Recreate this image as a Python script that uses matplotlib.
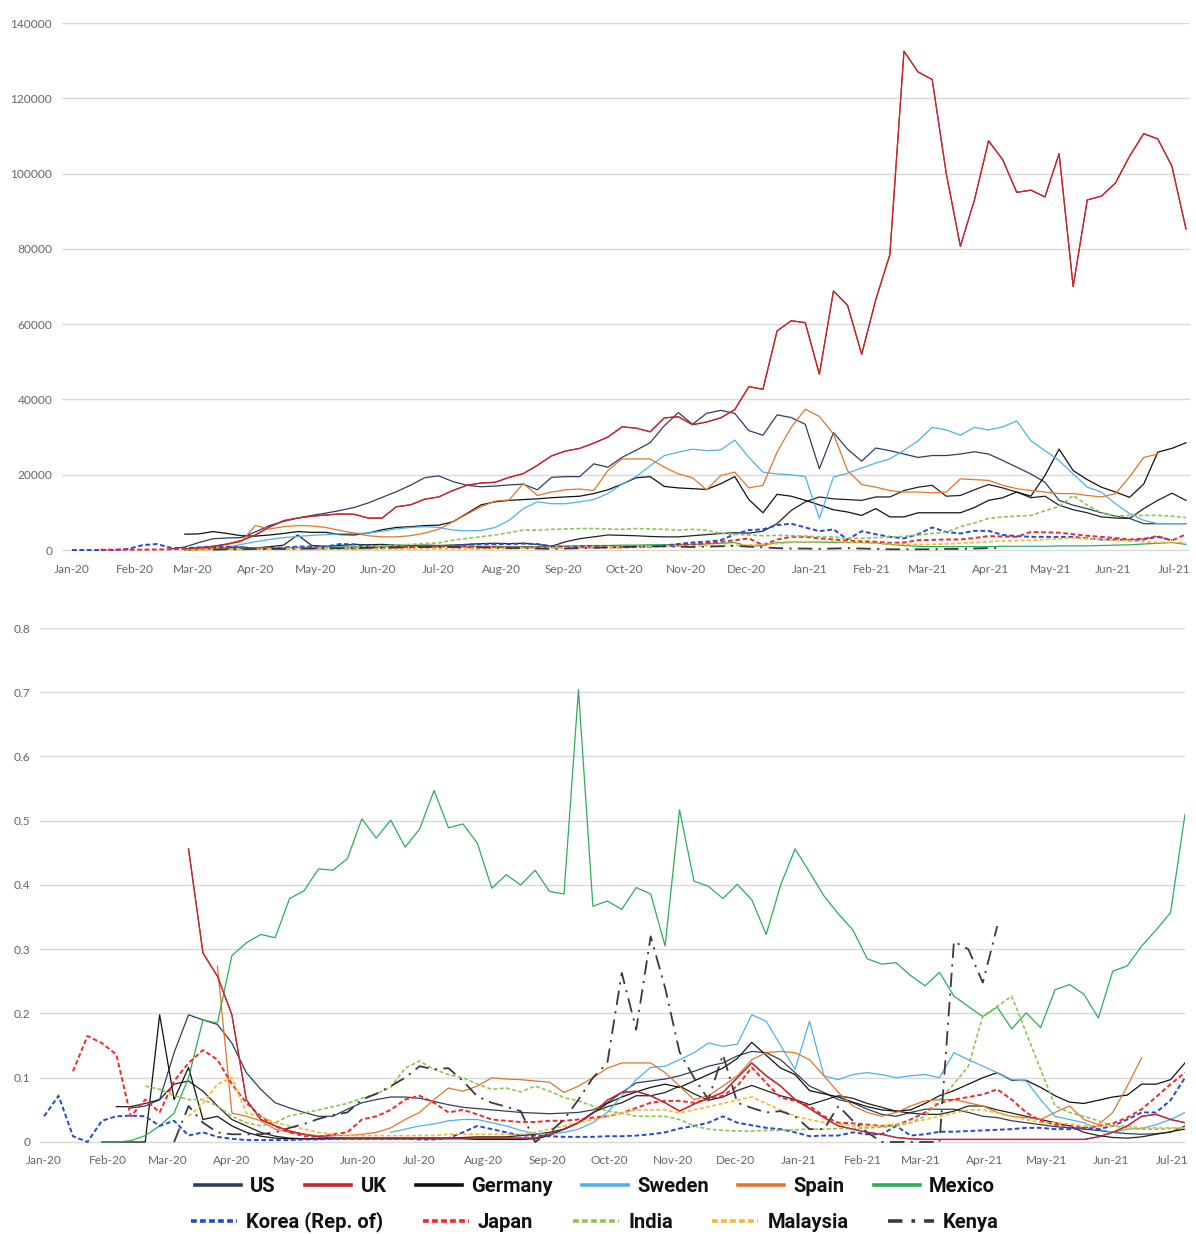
import numpy as np
import pandas as pd
import matplotlib
matplotlib.use("Agg")
import matplotlib.pyplot as plt
import matplotlib.dates as mdates
from matplotlib.lines import Line2D
from matplotlib.ticker import FuncFormatter

# ---------------- data (weekly, first week = 2020-01-01) ----------------
N_WEEKS = 80
week_dates = pd.date_range("2020-01-01", periods=N_WEEKS, freq="7D")

countries = ["US", "UK", "Germany", "Sweden", "Spain", "Mexico",
             "Korea (Rep. of)", "Japan", "India", "Malaysia", "Kenya"]

# ---- top panel (start week index, weekly values) ----
us_top_start = 7
us_top = [300, 800, 2000, 3000, 3200, 3300, 4800, 6500, 7600, 8500,
          9200, 9800, 10500, 11300, 12500, 14000, 15500, 17200, 19200, 19700,
          18200, 17200, 16800, 17000, 17300, 17500, 16000, 19300, 19500, 19500,
          22900, 22000, 24600, 26500, 28500, 33000, 36500, 33400, 36300, 37100,
          36300, 31700, 30500, 35900, 35200, 33400, 21600, 31200, 26800, 23600,
          27100, 26400, 25500, 24600, 25100, 25100, 25500, 26100, 25500, 23800,
          22000, 20200, 18000, 13200, 11900, 11000, 9900, 9000, 8400, 7000,
          7000, 7000, 7000]
uk_top_start = 8
uk_top = [300, 600, 1000, 1600, 2500, 4000, 6100, 7800, 8500, 9000,
          9300, 9600, 9500, 8500, 8500, 11500, 12000, 13500, 14100, 15800,
          17200, 17800, 18000, 19300, 20300, 22500, 25000, 26300, 27000, 28400,
          30000, 32700, 32400, 31400, 35100, 35400, 33300, 34000, 35100, 37300,
          43400, 42700, 58200, 60900, 60400, 46700, 68800, 65000, 52000, 66500,
          78500, 132500, 127000, 125000, 100000, 80700, 93000, 108700, 103700, 95000,
          95600, 93800, 105300, 70000, 93000, 94000, 97500, 104600, 110600, 109200,
          102000, 85300]
germany_top_start = 8
germany_top = [4200, 4300, 4900, 4400, 3800, 3700, 4000, 4400, 4900, 4700,
               4700, 4100, 4000, 4500, 5400, 6000, 6200, 6500, 6600, 7500,
               9700, 12000, 12800, 13200, 13400, 13600, 13900, 14100, 14300, 15000,
               16000, 17500, 19200, 19500, 16900, 16500, 16300, 16100, 17600, 19500,
               13400, 9900, 14800, 14300, 13200, 12000, 10700, 10100, 9200, 11000,
               8800, 8800, 9900, 9900, 9900, 9900, 11300, 13200, 13900, 15400,
               14300, 19800, 26800, 21100, 18700, 16700, 15400, 14000, 17500, 26000,
               27000, 28500]
other_dark_top_start = 8
other_dark_top = [0, 200, 400, 600, 800, 500, 900, 1300, 4000, 1200,
                  1000, 1200, 1500, 1400, 1500, 1300, 1200, 1300, 1200, 1300,
                  1500, 1700, 1800, 1700, 1800, 1500, 1000, 2200, 3000, 3500,
                  4000, 3900, 3800, 3600, 3500, 3500, 3800, 4100, 4400, 4600,
                  4500, 5000, 7000, 10500, 12800, 14100, 13600, 13400, 13200, 14100,
                  14100, 15800, 16700, 17200, 14300, 14500, 16000, 17400, 16500, 15400,
                  13900, 14300, 11900, 10700, 9900, 8800, 8500, 8400, 11000, 13200,
                  15100, 13200]
sweden_top_start = 10
sweden_top = [300, 800, 1500, 2200, 2800, 3300, 3600, 3900, 4100, 4300,
              4400, 4500, 5000, 5600, 6000, 6200, 6000, 5300, 5100, 5200,
              6000, 7900, 11000, 12800, 12300, 12300, 12800, 13400, 15000, 17500,
              19500, 22400, 25100, 26000, 26800, 26400, 26600, 29200, 24600, 20700,
              20200, 20000, 19500, 8400, 19400, 20400, 21800, 23100, 24200, 26500,
              29000, 32600, 31900, 30500, 32600, 31900, 32700, 34300, 29000, 26400,
              23800, 20200, 16700, 15400, 12300, 9700, 7900, 7000, 7000, 7000]
spain_top_start = 9
spain_top = [300, 800, 1500, 2200, 6500, 5600, 6200, 6500, 6400, 6000,
             5200, 4500, 3800, 3500, 3500, 3800, 4500, 5500, 7500, 9500,
             11500, 13000, 13300, 17700, 14500, 15400, 16000, 16200, 15800, 21100,
             24200, 24200, 24200, 22000, 20200, 19200, 16000, 19800, 20700, 16500,
             17200, 26000, 32600, 37400, 35500, 30800, 21100, 17400, 16700, 15800,
             15400, 15400, 15200, 15400, 18900, 18700, 18500, 17200, 16300, 15800,
             15400, 15000, 15000, 14500, 14100, 15000, 19400, 24600, 25500]
mexico_top_start = 8
mexico_top = [0, 100, 200, 300, 400, 500, 600, 600, 700, 700,
              800, 800, 900, 900, 900, 1000, 1000, 1000, 1000, 1000,
              1000, 1000, 1000, 900, 900, 900, 1000, 1000, 1100, 1200,
              1200, 1300, 1300, 1400, 1400, 1500, 1500, 1600, 1800, 2000,
              1000, 1200, 2000, 2100, 2100, 2100, 2000, 2000, 2000, 1900,
              1500, 1200, 1000, 900, 900, 900, 900, 900, 1000, 1000,
              1000, 1000, 1100, 1100, 1100, 1200, 1300, 1400, 1600, 1800,
              2000, 1500]
korea_top_start = 0
korea_top = [0, 0, 0, 0, 300, 1300, 1600, 600, 500, 700,
             800, 900, 700, 300, 500, 700, 900, 900, 900, 1600,
             1500, 1000, 1000, 1000, 900, 900, 900, 1200, 1400, 1600,
             1600, 1600, 1700, 1600, 1000, 900, 1000, 1000, 1000, 900,
             900, 1000, 1200, 1600, 2000, 2200, 2600, 4200, 5300, 5500,
             6600, 7000, 6000, 5000, 5500, 2800, 5000, 4200, 3500, 3100,
             4200, 6000, 4800, 4400, 5100, 5100, 4000, 3700, 3500, 3500,
             3500, 3500, 3100, 2800, 2800, 2600, 2800, 3500, 2600]
japan_top_start = 2
japan_top = [100, 100, 100, 100, 150, 200, 300, 300, 400, 400,
             400, 400, 500, 500, 500, 400, 400, 400, 400, 500,
             600, 700, 800, 900, 1000, 1000, 900, 800, 800, 700,
             700, 700, 700, 700, 700, 700, 700, 700, 800, 900,
             1000, 1200, 1500, 1800, 2200, 2600, 3100, 1300, 2800, 3500,
             3500, 3100, 2800, 2500, 2300, 2200, 1900, 2000, 2600, 2700,
             2800, 2800, 3200, 3700, 3600, 3500, 4800, 4700, 4600, 4200,
             3800, 3500, 3200, 2800, 3000, 3700, 2500, 4200]
india_top_start = 8
india_top = [100, 100, 200, 200, 300, 300, 400, 400, 500, 500,
             600, 600, 700, 900, 1100, 1300, 1500, 1700, 1900, 2600,
             3100, 3500, 4000, 4600, 5300, 5300, 5500, 5600, 5700, 5700,
             5600, 5500, 5700, 5600, 5500, 5300, 5500, 5300, 4400, 4200,
             4000, 3800, 3900, 3800, 3700, 3500, 3500, 3100, 3100, 3300,
             3500, 3600, 4000, 4400, 4800, 6200, 7200, 8400, 8800, 9000,
             9200, 10400, 11600, 14500, 11900, 9900, 9000, 9200, 9200, 9200,
             9000, 8600]
malaysia_top_start = 8
malaysia_top = [100, 100, 200, 200, 300, 300, 300, 300, 300, 300,
                300, 300, 300, 300, 300, 300, 300, 300, 300, 300,
                300, 300, 400, 400, 500, 500, 500, 600, 600, 700,
                800, 900, 900, 1000, 1000, 1000, 1100, 1200, 1200, 1300,
                1400, 1500, 1700, 2000, 2200, 2200, 2300, 2100, 2000, 1800,
                1600, 1500, 1500, 1500, 1600, 1800, 2000, 2200, 2400, 2500,
                2600, 2800, 3000, 3200, 3000, 2800, 2600, 2400, 2200, 2000,
                2000, 2000]
kenya_top_start = 10
kenya_top = [100, 200, 200, 300, 300, 300, 400, 400, 500, 500,
             500, 600, 600, 700, 700, 800, 800, 800, 700, 700,
             600, 500, 500, 400, 300, 400, 500, 600, 700, 800,
             900, 1000, 1000, 900, 800, 900, 1000, 1100, 900, 700,
             500, 400, 400, 300, 400, 500, 400, 300, 200, 200,
             200, 200, 300, 300, 400, 500, 500]

# ---- bottom panel ----
us_bot_start = 6
us_bot = [0.053, 0.056, 0.066, 0.139, 0.198, 0.19, 0.183, 0.154, 0.108, 0.082,
          0.061, 0.053, 0.046, 0.04, 0.04, 0.051, 0.061, 0.066, 0.07, 0.07,
          0.068, 0.063, 0.058, 0.054, 0.052, 0.05, 0.048, 0.046, 0.045, 0.044,
          0.045, 0.046, 0.05, 0.061, 0.077, 0.092, 0.095, 0.098, 0.103, 0.11,
          0.118, 0.123, 0.134, 0.141, 0.139, 0.128, 0.108, 0.087, 0.077, 0.066,
          0.061, 0.051, 0.043, 0.04, 0.046, 0.051, 0.051, 0.051, 0.046, 0.04,
          0.038, 0.033, 0.03, 0.027, 0.024, 0.022, 0.02, 0.018, 0.015, 0.013,
          0.012, 0.013, 0.015, 0.025]
uk_bot_start = 10
uk_bot = [0.456, 0.294, 0.258, 0.198, 0.066, 0.035, 0.025, 0.017, 0.012, 0.008,
          0.007, 0.006, 0.006, 0.006, 0.006, 0.006, 0.006, 0.006, 0.006, 0.006,
          0.006, 0.006, 0.006, 0.006, 0.006, 0.012, 0.02, 0.03, 0.045, 0.065,
          0.077, 0.079, 0.072, 0.061, 0.048, 0.059, 0.068, 0.077, 0.1, 0.123,
          0.103, 0.087, 0.066, 0.052, 0.038, 0.025, 0.02, 0.015, 0.012, 0.007,
          0.005, 0.004, 0.004, 0.004, 0.004, 0.004, 0.004, 0.004, 0.004, 0.004,
          0.004, 0.004, 0.004, 0.008, 0.015, 0.025, 0.04, 0.043, 0.035, 0.03]
germany_bot_start = 4
germany_bot = [0, 0, 0, 0, 0.198, 0.066, 0.116, 0.035, 0.04, 0.025,
               0.015, 0.009, 0.006, 0.005, 0.005, 0.005, 0.005, 0.005, 0.005, 0.005,
               0.005, 0.005, 0.005, 0.005, 0.005, 0.005, 0.004, 0.004, 0.004, 0.004,
               0.005, 0.01, 0.02, 0.03, 0.045, 0.06, 0.07, 0.078, 0.085, 0.09,
               0.085, 0.095, 0.105, 0.115, 0.13, 0.155, 0.135, 0.115, 0.105, 0.08,
               0.075, 0.07, 0.062, 0.055, 0.05, 0.048, 0.05, 0.06, 0.072, 0.08,
               0.09, 0.1, 0.108, 0.096, 0.096, 0.085, 0.072, 0.062, 0.06, 0.065,
               0.07, 0.073, 0.09, 0.09, 0.097, 0.123]
other_dark_bot_start = 5
other_dark_bot = [0.055, 0.055, 0.06, 0.066, 0.09, 0.095, 0.079, 0.056, 0.035, 0.025,
                  0.015, 0.009, 0.006, 0.005, 0.005, 0.006, 0.006, 0.006, 0.006, 0.006,
                  0.006, 0.006, 0.006, 0.006, 0.007, 0.008, 0.008, 0.008, 0.01, 0.012,
                  0.015, 0.02, 0.03, 0.046, 0.055, 0.061, 0.072, 0.072, 0.077, 0.087,
                  0.075, 0.065, 0.07, 0.08, 0.088, 0.08, 0.072, 0.066, 0.058, 0.065,
                  0.072, 0.068, 0.06, 0.054, 0.048, 0.045, 0.043, 0.043, 0.048, 0.056,
                  0.056, 0.05, 0.045, 0.04, 0.035, 0.03, 0.025, 0.015, 0.01, 0.007,
                  0.006, 0.008, 0.012, 0.016, 0.02]
sweden_bot_start = 24
sweden_bot = [0.015, 0.02, 0.025, 0.028, 0.033, 0.035, 0.035, 0.03, 0.025, 0.018,
              0.013, 0.012, 0.015, 0.02, 0.03, 0.046, 0.072, 0.097, 0.116, 0.118,
              0.128, 0.139, 0.154, 0.149, 0.152, 0.198, 0.188, 0.15, 0.113, 0.188,
              0.103, 0.097, 0.105, 0.108, 0.105, 0.1, 0.103, 0.105, 0.1, 0.139,
              0.128, 0.118, 0.108, 0.097, 0.095, 0.066, 0.04, 0.035, 0.03, 0.02,
              0.015, 0.02, 0.021, 0.027, 0.035, 0.046]
spain_bot_start = 12
spain_bot = [0.274, 0.045, 0.04, 0.033, 0.02, 0.015, 0.012, 0.01, 0.01, 0.01,
             0.012, 0.015, 0.022, 0.035, 0.046, 0.066, 0.084, 0.079, 0.087, 0.1,
             0.098, 0.097, 0.095, 0.093, 0.077, 0.087, 0.1, 0.115, 0.123, 0.123,
             0.123, 0.108, 0.087, 0.066, 0.072, 0.087, 0.103, 0.128, 0.139, 0.141,
             0.139, 0.128, 0.103, 0.077, 0.056, 0.046, 0.04, 0.046, 0.056, 0.064,
             0.066, 0.066, 0.061, 0.056, 0.046, 0.04, 0.038, 0.035, 0.046, 0.056,
             0.035, 0.027, 0.046, 0.087, 0.131]
mexico_bot_start = 4
mexico_bot = [0, 0, 0.002, 0.01, 0.025, 0.045, 0.1, 0.19, 0.185, 0.29,
              0.31, 0.323, 0.318, 0.379, 0.391, 0.425, 0.423, 0.441, 0.503, 0.473,
              0.501, 0.459, 0.487, 0.547, 0.489, 0.495, 0.465, 0.395, 0.416, 0.4,
              0.423, 0.39, 0.386, 0.704, 0.367, 0.375, 0.362, 0.396, 0.386, 0.305,
              0.517, 0.406, 0.398, 0.379, 0.401, 0.377, 0.323, 0.4, 0.456, 0.42,
              0.383, 0.355, 0.33, 0.285, 0.277, 0.279, 0.259, 0.243, 0.264, 0.227,
              0.211, 0.195, 0.21, 0.176, 0.201, 0.178, 0.237, 0.245, 0.23, 0.193,
              0.266, 0.274, 0.305, 0.33, 0.357, 0.51]
korea_bot_start = 0
korea_bot = [0.04, 0.072, 0.009, 0.0, 0.033, 0.04, 0.041, 0.04, 0.025, 0.033,
             0.01, 0.015, 0.008, 0.005, 0.003, 0.003, 0.003, 0.003, 0.004, 0.004,
             0.005, 0.005, 0.005, 0.005, 0.005, 0.005, 0.004, 0.004, 0.006, 0.015,
             0.025, 0.02, 0.015, 0.01, 0.01, 0.009, 0.008, 0.008, 0.008, 0.009,
             0.009, 0.01, 0.012, 0.015, 0.021, 0.025, 0.03, 0.04, 0.03, 0.026,
             0.022, 0.02, 0.015, 0.009, 0.01, 0.01, 0.015, 0.012, 0.012, 0.025,
             0.01, 0.012, 0.016, 0.016, 0.017, 0.018, 0.019, 0.02, 0.022, 0.022,
             0.02, 0.02, 0.022, 0.02, 0.025, 0.035, 0.046, 0.046, 0.065, 0.1]
japan_bot_start = 2
japan_bot = [0.11, 0.165, 0.154, 0.136, 0.04, 0.066, 0.046, 0.095, 0.123, 0.143,
             0.128, 0.09, 0.061, 0.04, 0.025, 0.015, 0.009, 0.008, 0.012, 0.015,
             0.035, 0.04, 0.05, 0.066, 0.072, 0.061, 0.046, 0.05, 0.043, 0.035,
             0.033, 0.031, 0.031, 0.033, 0.033, 0.035, 0.038, 0.04, 0.045, 0.053,
             0.061, 0.064, 0.064, 0.061, 0.067, 0.072, 0.087, 0.116, 0.092, 0.069,
             0.064, 0.056, 0.04, 0.03, 0.029, 0.027, 0.025, 0.026, 0.035, 0.046,
             0.061, 0.066, 0.07, 0.074, 0.082, 0.066, 0.046, 0.033, 0.027, 0.025,
             0.022, 0.025, 0.029, 0.038, 0.051, 0.07, 0.09, 0.108]
india_bot_start = 7
india_bot = [0.087, 0.082, 0.072, 0.066, 0.066, 0.056, 0.04, 0.03, 0.025, 0.03,
             0.041, 0.045, 0.05, 0.055, 0.06, 0.068, 0.075, 0.085, 0.115, 0.126,
             0.113, 0.105, 0.1, 0.09, 0.082, 0.084, 0.078, 0.087, 0.079, 0.069,
             0.064, 0.056, 0.048, 0.045, 0.04, 0.04, 0.04, 0.035, 0.025, 0.02,
             0.018, 0.017, 0.017, 0.018, 0.018, 0.019, 0.02, 0.02, 0.021, 0.021,
             0.022, 0.023, 0.025, 0.03, 0.04, 0.066, 0.09, 0.118, 0.196, 0.211,
             0.227, 0.17, 0.113, 0.056, 0.046, 0.04, 0.033, 0.025, 0.022, 0.02,
             0.02, 0.021, 0.022]
malaysia_bot_start = 10
malaysia_bot = [0.04, 0.06, 0.09, 0.1, 0.045, 0.04, 0.03, 0.025, 0.02, 0.015,
                0.012, 0.01, 0.01, 0.01, 0.01, 0.01, 0.01, 0.01, 0.012, 0.012,
                0.012, 0.012, 0.012, 0.012, 0.015, 0.02, 0.025, 0.03, 0.035, 0.04,
                0.045, 0.05, 0.05, 0.05, 0.045, 0.05, 0.055, 0.06, 0.065, 0.07,
                0.06, 0.05, 0.04, 0.035, 0.03, 0.028, 0.025, 0.025, 0.025, 0.028,
                0.03, 0.035, 0.04, 0.045, 0.05, 0.05, 0.045, 0.04, 0.035, 0.03,
                0.03, 0.028, 0.025, 0.025, 0.025, 0.025, 0.022, 0.022, 0.022, 0.022]
kenya_bot_start = 9
kenya_bot = [0, 0.056, 0.03, 0.015, 0.012, 0.012, 0.012, 0.015, 0.022, 0.028,
             0.036, 0.042, 0.046, 0.066, 0.075, 0.087, 0.1, 0.118, 0.113, 0.115,
             0.095, 0.071, 0.061, 0.055, 0.048, 0, 0.015, 0.035, 0.066, 0.1,
             0.123, 0.263, 0.175, 0.32, 0.24, 0.14, 0.1, 0.066, 0.136, 0.061,
             0.053, 0.046, 0.048, 0.04, 0.02, 0.02, 0.056, 0.033, 0.015, 0,
             0, 0, 0, 0, 0.312, 0.3, 0.248, 0.336]

top_ticks = [0, 20000, 40000, 60000, 80000, 100000, 120000, 140000]
bot_ticks = [0, 0.1, 0.2, 0.3, 0.4, 0.5, 0.6, 0.7, 0.8]

# ---------------- helpers ----------------
def place(start, values):
    arr = np.full(N_WEEKS, np.nan)
    vals = np.asarray(values, dtype=float)[: N_WEEKS - start]
    arr[start:start + len(vals)] = vals
    return arr

DASH = (0, (2.4, 1.4))
styles = {
    "US":              dict(color="#2F3F5F", ls="-",  lw=0.9),
    "UK":              dict(color="#C3262E", ls="-",  lw=0.9),
    "Germany":         dict(color="#111111", ls="-",  lw=0.9),
    "Sweden":          dict(color="#4DB3E6", ls="-",  lw=0.9),
    "Spain":           dict(color="#E0762C", ls="-",  lw=0.9),
    "Mexico":          dict(color="#2BAE5B", ls="-",  lw=0.9),
    "Korea (Rep. of)": dict(color="#2449D8", ls=DASH, lw=1.4),
    "Japan":           dict(color="#F2282A", ls=DASH, lw=1.4),
    "India":           dict(color="#8DC556", ls=DASH, lw=1.2),
    "Malaysia":        dict(color="#F5B82E", ls=DASH, lw=1.2),
    "Kenya":           dict(color="#3A3A3A", ls=(0, (8, 3.5, 1.2, 3.5)), lw=1.3),
}
other_style = dict(color="#222222", ls="-", lw=0.9)

top_series = {
    "US": place(us_top_start, us_top),
    "UK": place(uk_top_start, uk_top),
    "Germany": place(germany_top_start, germany_top),
    "Sweden": place(sweden_top_start, sweden_top),
    "Spain": place(spain_top_start, spain_top),
    "Mexico": place(mexico_top_start, mexico_top),
    "Korea (Rep. of)": place(korea_top_start, korea_top),
    "Japan": place(japan_top_start, japan_top),
    "India": place(india_top_start, india_top),
    "Malaysia": place(malaysia_top_start, malaysia_top),
    "Kenya": place(kenya_top_start, kenya_top),
}
bot_series = {
    "US": place(us_bot_start, us_bot),
    "UK": place(uk_bot_start, uk_bot),
    "Germany": place(germany_bot_start, germany_bot),
    "Sweden": place(sweden_bot_start, sweden_bot),
    "Spain": place(spain_bot_start, spain_bot),
    "Mexico": place(mexico_bot_start, mexico_bot),
    "Korea (Rep. of)": place(korea_bot_start, korea_bot),
    "Japan": place(japan_bot_start, japan_bot),
    "India": place(india_bot_start, india_bot),
    "Malaysia": place(malaysia_bot_start, malaysia_bot),
    "Kenya": place(kenya_bot_start, kenya_bot),
}

# ---------------- figure ----------------
W, H = 1196, 1234
fig = plt.figure(figsize=(W / 100, H / 100), dpi=100)
fig.patch.set_facecolor("white")

def px_axes(x0, y0, x1, y1):
    return fig.add_axes([x0 / W, 1 - y1 / H, (x1 - x0) / W, (y1 - y0) / H])

ax_top = px_axes(62, 23, 1190, 553.8)
ax_bot = px_axes(40, 628, 1185, 1145.2)

tick_font = dict(family=["Lato", "DejaVu Sans"], size=8.6)

def style_axis(ax, yticks, fmt, xleft, xright, ylim):
    for s in ax.spines.values():
        s.set_visible(False)
    ax.set_yticks(yticks)
    ax.yaxis.set_major_formatter(FuncFormatter(fmt))
    ax.set_ylim(*ylim)
    ax.set_xlim(pd.Timestamp(xleft), pd.Timestamp(xright))
    ax.xaxis.set_major_locator(mdates.MonthLocator())
    ax.xaxis.set_major_formatter(mdates.DateFormatter("%b-%y"))
    ax.grid(axis="y", color="#D9D9D9", lw=1.0)
    ax.grid(axis="x", visible=False)
    ax.set_axisbelow(True)
    ax.tick_params(length=0, labelcolor="#666666", pad=7)
    for lab in ax.get_xticklabels() + ax.get_yticklabels():
        lab.set_fontfamily(tick_font["family"])
        lab.set_fontsize(tick_font["size"])

def draw(ax, series, other):
    for name in ["US", "UK"]:
        ax.plot(week_dates, series[name], label=name, **styles[name])
    ax.plot(week_dates, other, label="_nolegend_", **other_style)
    for name in countries[2:]:
        ax.plot(week_dates, series[name], label=name, **styles[name])
    ax.plot(week_dates, series["UK"], label="_nolegend_", **styles["UK"])

draw(ax_top, top_series, place(other_dark_top_start, other_dark_top))
draw(ax_bot, bot_series, place(other_dark_bot_start, other_dark_bot))

style_axis(ax_top, top_ticks, lambda v, p: f"{int(round(v))}",
           "2019-12-27", "2021-07-09", (-1000, 140000))
style_axis(ax_bot, bot_ticks, lambda v, p: "0" if abs(v) < 1e-9 else f"{v:.1f}",
           "2019-12-30", "2021-07-07", (-0.005, 0.8))

# ---------------- legend (two centred rows) ----------------
def handle(name):
    st = dict(styles[name])
    st["lw"] = 2.6
    if name == "Kenya":
        st["ls"] = (0, (4, 2.5, 1, 2.5))
    elif st["ls"] != "-":
        st["ls"] = (0, (1.6, 0.9))
    return Line2D([0], [0], **st)

leg_font = dict(family=["Roboto", "DejaVu Sans"], weight="bold", size=14.5)
row1 = countries[:6]
row2 = countries[6:]
for names, yc, cs in [(row1, 1187, 1.45), (row2, 1222, 1.95)]:
    leg = fig.legend([handle(n) for n in names], names, loc="center",
                     bbox_to_anchor=(595 / W, 1 - yc / H), ncol=len(names),
                     frameon=False, prop=leg_font, handlelength=2.3,
                     handletextpad=0.45, columnspacing=cs, borderpad=0)
    for t in leg.get_texts():
        t.set_color("#111111")

fig.savefig("out.png", dpi=100, facecolor="white")
